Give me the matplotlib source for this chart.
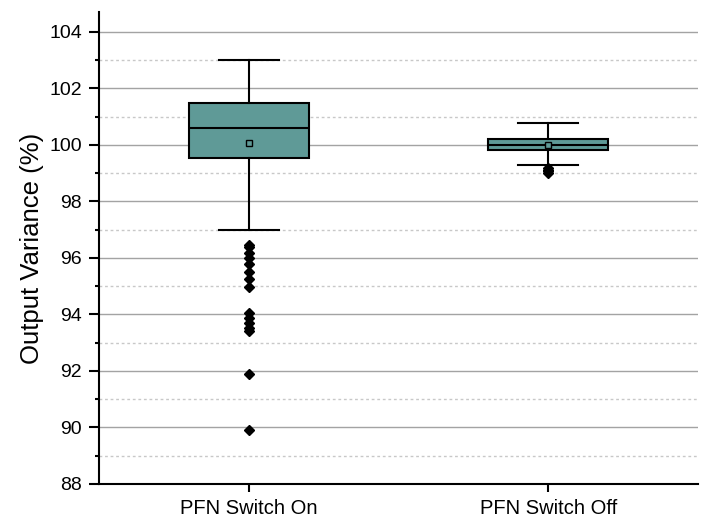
import matplotlib
matplotlib.use('Agg')
import matplotlib.pyplot as plt
from matplotlib.ticker import FixedLocator

plt.rcParams['font.family'] = ['Liberation Sans', 'DejaVu Sans']

# box statistics
groups = ['PFN Switch On', 'PFN Switch Off']
whislo = [97.0, 99.3]
q1 = [99.52, 99.81]
med = [100.6, 100.0]
mean = [100.07, 100.0]
q3 = [101.47, 100.2]
whishi = [103.0, 100.76]
fliers_on = [96.45, 96.38, 96.18, 96.0, 95.77, 95.5, 95.25, 94.97,
             94.06, 93.88, 93.7, 93.53, 93.42, 91.9, 89.92]
fliers_off = [99.18, 99.12, 99.06, 99.02]

y_major = [88, 90, 92, 94, 96, 98, 100, 102, 104]
y_minor = [89, 91, 93, 95, 97, 99, 101, 103]

stats = []
for i, g in enumerate(groups):
    stats.append(dict(label=g, whislo=whislo[i], q1=q1[i], med=med[i],
                      mean=mean[i], q3=q3[i], whishi=whishi[i],
                      fliers=[fliers_on, fliers_off][i]))

fig = plt.figure(figsize=(7.06, 5.26), dpi=100)
ax = fig.add_axes([0.140, 0.080, 0.849, 0.897])

teal = '#5f9a97'
ax.bxp(stats, positions=[1, 2], widths=0.4, patch_artist=True,
       showmeans=True, showfliers=True,
       boxprops=dict(facecolor=teal, edgecolor='black', linewidth=1.5),
       medianprops=dict(color='black', linewidth=1.5),
       whiskerprops=dict(color='black', linewidth=1.5),
       capprops=dict(color='black', linewidth=1.5),
       capwidths=0.2,
       meanprops=dict(marker='s', markersize=5, markerfacecolor=teal,
                      markeredgecolor='black', markeredgewidth=1),
       flierprops=dict(marker='D', markersize=5.5, markerfacecolor='black',
                       markeredgecolor='black'))

ax.set_xlim(0.5, 2.5)
ax.set_ylim(88, 104.7)

ax.set_yticks(y_major)
ax.yaxis.set_minor_locator(FixedLocator(y_minor))

for v in y_major[1:]:
    ax.axhline(v, color='#a3a3a3', linewidth=1, zorder=0)
for v in y_minor:
    ax.axhline(v, color='#c8c8c8', linewidth=1, linestyle=(0, (2, 2)), zorder=0)

ax.spines['top'].set_visible(False)
ax.spines['right'].set_visible(False)
ax.spines['left'].set_linewidth(1.5)
ax.spines['bottom'].set_linewidth(1.5)

ax.tick_params(axis='y', which='major', direction='out', length=7, width=1.5,
               labelsize=14, pad=5)
ax.tick_params(axis='y', which='minor', direction='out', length=3, width=1.5)
ax.tick_params(axis='x', which='major', direction='out', length=6, width=1.5,
               labelsize=14.5, pad=5)

ax.set_ylabel('Output Variance (%)', fontsize=18.5, labelpad=4)

plt.savefig('out.png')
